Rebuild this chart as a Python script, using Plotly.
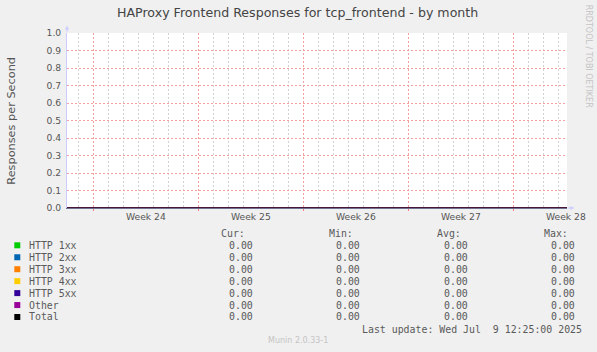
import plotly.graph_objects as go

# ---------------- data ----------------
times = ["2025-06-07 06:00", "2025-06-14 00:00", "2025-06-21 00:00", "2025-06-28 00:00",
         "2025-07-05 00:00", "2025-07-10 14:00"]
series_names = ["HTTP 1xx", "HTTP 2xx", "HTTP 3xx", "HTTP 4xx", "HTTP 5xx", "Other", "Total"]
series_colors = ["#00CC00", "#0066B3", "#FF8000", "#FFCC00", "#330099", "#990099", "#000000"]
series_values = {
    "HTTP 1xx": [0.0, 0.0, 0.0, 0.0, 0.0, 0.0],
    "HTTP 2xx": [0.0, 0.0, 0.0, 0.0, 0.0, 0.0],
    "HTTP 3xx": [0.0, 0.0, 0.0, 0.0, 0.0, 0.0],
    "HTTP 4xx": [0.0, 0.0, 0.0, 0.0, 0.0, 0.0],
    "HTTP 5xx": [0.0, 0.0, 0.0, 0.0, 0.0, 0.0],
    "Other":    [0.0, 0.0, 0.0, 0.0, 0.0, 0.0],
    "Total":    [0.0, 0.0, 0.0, 0.0, 0.0, 0.0],
}
cur_vals = ["0.00"] * 7
min_vals = ["0.00"] * 7
avg_vals = ["0.00"] * 7
max_vals = ["0.00"] * 7

x_range = ["2025-06-07 06:00", "2025-07-10 14:00"]
week_starts = ["2025-06-09", "2025-06-16", "2025-06-23", "2025-06-30", "2025-07-07"]
week_label_pos = ["2025-06-12 12:00", "2025-06-19 12:00", "2025-06-26 12:00",
                  "2025-07-03 12:00", "2025-07-10 12:00"]
week_labels = ["Week 24", "Week 25", "Week 26", "Week 27", "Week 28"]
y_ticks = [0.0, 0.1, 0.2, 0.3, 0.4, 0.5, 0.6, 0.7, 0.8, 0.9, 1.0]

title_text = "HAProxy Frontend Responses for tcp_frontend - by month"
y_title = "Responses per Second"
last_update = "Last update: Wed Jul  9 12:25:00 2025"
credit = "RRDTOOL / TOBI OETIKER"
version = "Munin 2.0.33-1"

# ---------------- layout geometry ----------------
W, H = 597, 352
PL, PR, PT, PB = 66.7, 566.7, 33.3, 208.3  # plot box in pixels


def px(x):
    return (x - PL) / (PR - PL)


def py(y):
    return (PB - y) / (PB - PT)


fig = go.Figure()

for name, color in zip(series_names, series_colors):
    fig.add_trace(go.Scatter(x=times, y=series_values[name], mode="lines",
                             line=dict(color=color, width=1), name=name,
                             showlegend=False, cliponaxis=False, hoverinfo="skip"))

sans = "DejaVu Sans"
mono = "DejaVu Sans Mono"
txt = "#555555"
red_grid = "#F2A0A0"
gray_grid = "#D2D2D2"

fig.update_layout(
    width=W, height=H,
    margin=dict(l=PL, r=W - PR, t=PT, b=H - PB),
    paper_bgcolor="#F0F0F0", plot_bgcolor="#FFFFFF",
    showlegend=False,
    xaxis=dict(type="date", range=x_range, tickmode="array", tickvals=week_starts,
               showticklabels=False, showgrid=True,
               gridcolor=red_grid, griddash="2px,2px", gridwidth=1,
               ticks="outside", ticklen=2, tickcolor="#EE8080",
               minor=dict(tickmode="linear", tick0="2025-06-09", dtick=86400000,
                          showgrid=True, gridcolor=gray_grid, griddash="2px,2px",
                          gridwidth=1, ticks=""),
               zeroline=False,
               showline=True, linecolor="#707090", linewidth=1, layer="above traces"),
    yaxis=dict(range=[0, 1.0], tickmode="array", tickvals=y_ticks,
               ticktext=["%.1f" % v for v in y_ticks], showgrid=True,
               gridcolor=red_grid, griddash="2px,2px", gridwidth=1,
               zeroline=False, ticks="outside", ticklen=3, tickcolor="rgba(0,0,0,0)",
               tickfont=dict(family=sans, size=9.2, color=txt),
               showline=True, linecolor="#CCCCFF", linewidth=1),
)

ann = []
# week labels placed through the x axis scale
for pos, lab in zip(week_label_pos, week_labels):
    ann.append(dict(text=lab, x=pos, y=py(216.7), xref="x", yref="paper",
                    showarrow=False, font=dict(family=sans, size=9.2, color=txt),
                    xanchor="center", yanchor="middle"))

ann.append(dict(text=title_text, x=px(297.5), y=py(13.3), xref="paper", yref="paper",
                showarrow=False, font=dict(family=sans, size=12.6, color="#444444"),
                xanchor="center", yanchor="middle"))
ann.append(dict(text=y_title, x=px(11), y=py(120.7), xref="paper", yref="paper",
                showarrow=False, textangle=-90, font=dict(family=sans, size=11.3, color=txt),
                xanchor="center", yanchor="middle"))
ann.append(dict(text=credit, x=px(587.7), y=py(57), xref="paper", yref="paper",
                showarrow=False, textangle=90, font=dict(family=sans, size=8, color="#C4C4C4"),
                xanchor="center", yanchor="middle"))
ann.append(dict(text=version, x=px(298), y=py(341), xref="paper", yref="paper",
                showarrow=False, font=dict(family=sans, size=8, color="#C4C4C4"),
                xanchor="center", yanchor="middle"))

# axis arrows
ann.append(dict(x=px(PL), y=py(26), ax=0, ay=8, xref="paper", yref="paper",
                axref="pixel", ayref="pixel", showarrow=True, arrowhead=2, arrowsize=0.8,
                arrowwidth=1, arrowcolor="#CCCCFF", text=""))
ann.append(dict(x=px(574), y=py(PB), ax=-8, ay=0, xref="paper", yref="paper",
                axref="pixel", ayref="pixel", showarrow=True, arrowhead=2, arrowsize=0.8,
                arrowwidth=1, arrowcolor="#CCCCFF", text=""))

# legend table
mf = dict(family=mono, size=9.9, color="#5A5A5A")
header_y = 233.3
row_y0, row_step = 245.6, 11.95
headers = [("Cur:", 246.7), ("Min:", 355.0), ("Avg:", 462.5), ("Max:", 569.5)]
for h, xr in headers:
    ann.append(dict(text=h, x=px(xr), y=py(header_y), xref="paper", yref="paper",
                    showarrow=False, font=mf, xanchor="right", yanchor="middle"))
shapes = []
cols = [(cur_vals, 254.3), (min_vals, 362.0), (avg_vals, 469.5), (max_vals, 577.0)]
for i, (name, color) in enumerate(zip(series_names, series_colors)):
    yc = row_y0 + i * row_step
    shapes.append(dict(type="rect", xref="paper", yref="paper",
                       x0=px(14), x1=px(20), y0=py(yc - 3), y1=py(yc + 3),
                       fillcolor=color, line=dict(width=0)))
    ann.append(dict(text=name, x=px(26.5), y=py(yc), xref="paper", yref="paper",
                    showarrow=False, font=mf, xanchor="left", yanchor="middle"))
    for vals, xr in cols:
        ann.append(dict(text=vals[i], x=px(xr), y=py(yc), xref="paper", yref="paper",
                        showarrow=False, font=mf, xanchor="right", yanchor="middle"))
ann.append(dict(text=last_update.replace(" ", "&nbsp;"), x=px(583.5), y=py(329.3),
                xref="paper", yref="paper", showarrow=False, font=mf,
                xanchor="right", yanchor="middle"))

fig.update_layout(annotations=ann, shapes=shapes)
fig.write_html("out.html")
